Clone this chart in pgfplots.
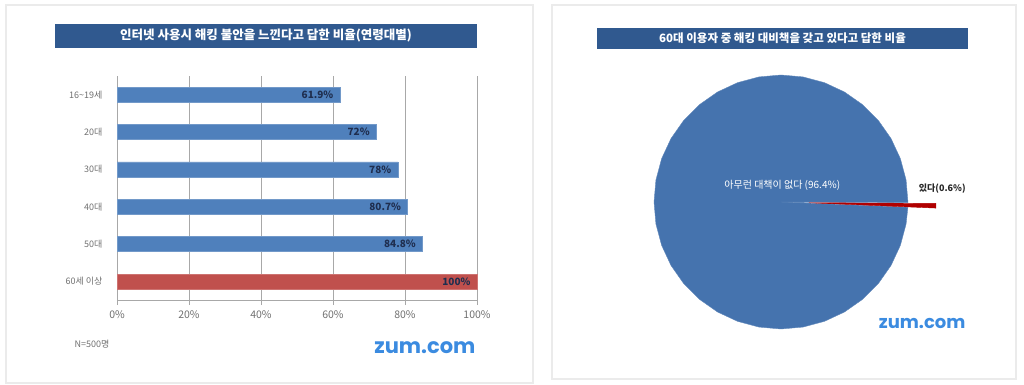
\documentclass[border=0pt]{standalone}
\usepackage{fontspec}
\setmainfont{Noto Sans CJK KR}
\newfontfamily\logofont{Poppins}
\usepackage{pgfplots}
\pgfplotsset{compat=1.18}
\definecolor{titlebar}{HTML}{30598F}
\definecolor{barblue}{HTML}{4F80BC}
\definecolor{barred}{HTML}{C0504D}
\definecolor{pieblue}{HTML}{4573AE}
\definecolor{piered}{HTML}{B00000}
\definecolor{zum}{HTML}{3B8BE0}
\definecolor{lbl}{HTML}{1F2E4F}
\definecolor{tickgray}{HTML}{707070}
\definecolor{linegray}{HTML}{A8A8A8}
\definecolor{panel}{HTML}{EBEBEB}
\begin{document}
\begin{tikzpicture}
\useasboundingbox (0pt,0pt) rectangle (1024pt,385pt);
% panels
\draw[panel,line width=1.2pt] (6pt,2pt) rectangle (533pt,380pt);
\draw[panel,line width=1.2pt] (552pt,6pt) rectangle (1016pt,380pt);
% left title
\fill[titlebar] (55pt,337pt) rectangle (477pt,361pt);
\node[text=white,font=\fontsize{12.5}{14}\selectfont\bfseries] at (266pt,349pt) {인터넷 사용시 해킹 불안을 느낀다고 답한 비율(연령대별)};
% right title
\fill[titlebar] (597pt,336pt) rectangle (968pt,357pt);
\node[text=white,font=\fontsize{11.5}{13}\selectfont\bfseries] at (782.5pt,346.5pt) {60대 이용자 중 해킹 대비책을 갖고 있다고 답한 비율};

\begin{axis}[
  at={(117pt,85pt)}, anchor=south west,
  scale only axis, width=360pt, height=224pt,
  xbar, bar width=15pt, bar shift=0pt,
  xmin=0, xmax=100,
  ymin=-0.5, ymax=5.5, y dir=reverse,
  axis x line*=bottom, axis y line*=left,
  axis line style={linegray,-},
  xtick={0,20,40,60,80,100},
  xticklabels={0\%,20\%,40\%,60\%,80\%,100\%},
  xmajorgrids, grid style={linegray,line width=0.6pt},
  major tick style={linegray},
  xtick align=outside, major tick length=5pt,
  ytick={0,1,2,3,4,5},
  yticklabels={16\textasciitilde19세,20대,30대,40대,50대,60세 이상},
  minor ytick={-0.5,0.5,1.5,2.5,3.5,4.5,5.5},
  ytick style={draw=none},
  minor tick style={linegray},
  minor tick length=5pt, ytick align=outside,
  yticklabel style={font=\fontsize{9}{10}\selectfont, text=tickgray, xshift=-6pt},
  xticklabel style={font=\fontsize{10.5}{12}\selectfont, text=tickgray, yshift=-2pt},
  /pgf/number format/assume math mode=true,
  point meta=x,
  nodes near coords={\pgfmathprintnumber{\pgfplotspointmeta}\%},
  every node near coord/.append style={anchor=east, xshift=-3pt, text=lbl, font=\fontsize{10}{11}\selectfont\bfseries},
  clip=false,
]
\addplot[fill=barblue, draw=barblue!80!white] coordinates {(61.9,0) (72,1) (78,2) (80.7,3) (84.8,4)};
\addplot[fill=barred, draw=barred!80!white] coordinates {(100,5)};
\end{axis}
\node[anchor=west,text=tickgray,font=\fontsize{9}{10}\selectfont] at (71pt,41pt) {N=500명};
\node[anchor=east,text=zum,font=\logofont\fontsize{21}{22}\selectfont\bfseries] at (479pt,37pt) {zum.com};

\begin{axis}[
  at={(781pt,183pt)}, anchor=center,
  scale only axis, width=254pt, height=254pt,
  xmin=-1, xmax=1, ymin=-1, ymax=1,
  hide axis, clip=false,
]
\addplot[fill=pieblue, draw=pieblue!85!white, data cs=polar] coordinates {
 (0,0) (-0.3,1) (10,1) (20,1) (30,1) (40,1) (50,1) (60,1) (70,1) (80,1) (90,1)
 (100,1) (110,1) (120,1) (130,1) (140,1) (150,1) (160,1) (170,1) (180,1)
 (190,1) (200,1) (210,1) (220,1) (230,1) (240,1) (250,1) (260,1) (270,1)
 (280,1) (290,1) (300,1) (310,1) (320,1) (330,1) (340,1) (350,1) (357.6,1) (0,0)} \closedcycle;
\addplot[fill=piered, draw=piered] coordinates {
 (0.22,-0.006) (1.2199,-0.0112) (1.2195,-0.030) (1.2190,-0.0479) (0.22,-0.006)};
\node[text=white,font=\fontsize{10}{11}\selectfont] at (axis cs:0.01,0.13) {아무런 대책이 없다 (96.4\%)};
\node[text=black!85,font=\fontsize{9}{10}\selectfont\bfseries] at (axis cs:1.27,0.105) {있다(0.6\%)};
\end{axis}
\node[anchor=east,text=zum,font=\logofont\fontsize{18}{20}\selectfont\bfseries] at (969pt,62pt) {zum.com};
\end{tikzpicture}
\end{document}
